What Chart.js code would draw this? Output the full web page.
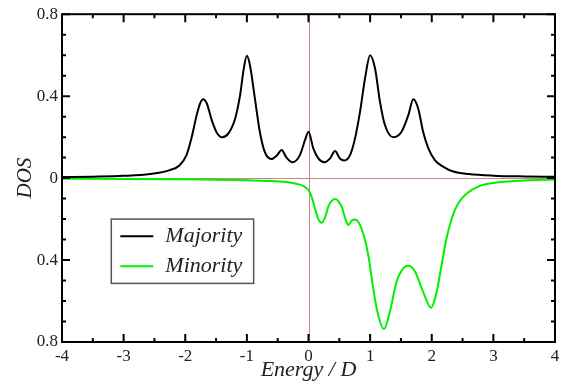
<!DOCTYPE html>
<html><head><meta charset="utf-8">
<script src="https://cdn.jsdelivr.net/npm/chart.js@4.4.0/dist/chart.umd.min.js"></script>
<style>html,body{margin:0;padding:0;background:#fff}#wrap{width:572px;height:383px}</style>
</head><body><div id="wrap"><canvas id="c" width="572" height="383"></canvas></div>
<script>
const energyMajority = [-4,-3.5,-3,-2.57,-2.25,-2.09,-1.98,-1.9,-1.815,-1.76,-1.71,-1.65,-1.57,-1.49,-1.4,-1.3,-1.19,-1.11,-1.05,-1.0,-0.95,-0.87,-0.79,-0.71,-0.6,-0.51,-0.435,-0.365,-0.26,-0.14,-0.057,0,0.078,0.16,0.257,0.35,0.43,0.51,0.58,0.674,0.755,0.836,0.917,1.0,1.08,1.16,1.24,1.377,1.51,1.62,1.70,1.78,1.86,1.945,2.05,2.19,2.35,2.6,3.0,3.5,4];
const dosMajority = [0.005,0.007,0.011,0.02,0.039,0.063,0.112,0.194,0.307,0.364,0.385,0.364,0.283,0.223,0.199,0.218,0.291,0.405,0.535,0.597,0.551,0.389,0.226,0.128,0.093,0.112,0.137,0.104,0.077,0.112,0.185,0.226,0.145,0.096,0.077,0.096,0.132,0.096,0.086,0.112,0.194,0.323,0.486,0.6,0.535,0.372,0.259,0.199,0.226,0.307,0.385,0.34,0.226,0.145,0.088,0.055,0.032,0.02,0.012,0.008,0.006];
const energyMinority = [-4,-3,-2,-1.5,-1,-0.7,-0.46,-0.3,-0.14,-0.06,0,0.05,0.105,0.16,0.214,0.27,0.32,0.38,0.44,0.49,0.54,0.6,0.646,0.7,0.755,0.86,0.97,1.05,1.13,1.225,1.32,1.43,1.54,1.62,1.73,1.86,1.99,2.08,2.16,2.24,2.325,2.43,2.57,2.78,3.0,3.5,4];
const dosMinority = [-0.003,-0.004,-0.006,-0.008,-0.011,-0.014,-0.017,-0.022,-0.032,-0.043,-0.059,-0.09,-0.148,-0.2,-0.218,-0.19,-0.14,-0.11,-0.102,-0.115,-0.14,-0.2,-0.229,-0.208,-0.202,-0.246,-0.376,-0.538,-0.668,-0.737,-0.652,-0.506,-0.44,-0.428,-0.457,-0.555,-0.633,-0.555,-0.424,-0.294,-0.197,-0.123,-0.075,-0.038,-0.024,-0.012,-0.007];
const xTicks = [-4,-3,-2,-1,0,1,2,3,4];
const yTicks = [-0.8,-0.4,0,0.4,0.8];
const seriesLabels = ['Majority','Minority'];
const seriesColors = ['#000000','#00f000'];

const toPts = (xs, ys) => xs.map((x, i) => ({x: x, y: ys[i]}));
const serif = '"Liberation Serif","Times New Roman",serif';

const framePlugin = {
  id: 'frame',
  beforeDatasetsDraw(chart) {
    const {ctx, chartArea: a, scales: {x, y}} = chart;
    ctx.save();
    ctx.strokeStyle = 'rgb(200,135,135)';
    ctx.lineWidth = 1;
    const x0 = Math.round(x.getPixelForValue(0)) + 0.5;
    const y0 = Math.round(y.getPixelForValue(0)) + 0.5;
    ctx.beginPath();
    ctx.moveTo(x0, a.top); ctx.lineTo(x0, a.bottom);
    ctx.moveTo(a.left, y0); ctx.lineTo(a.right, y0);
    ctx.stroke();
    ctx.restore();
  },
  afterDatasetsDraw(chart) {
    const {ctx, chartArea: a, scales: {x, y}} = chart;
    ctx.save();
    ctx.strokeStyle = '#000';
    ctx.lineWidth = 2;
    ctx.strokeRect(a.left, a.top, a.right - a.left, a.bottom - a.top);
    ctx.beginPath();
    for (let v = -4; v <= 4.0001; v += 0.5) {
      const px = x.getPixelForValue(v);
      const len = Math.abs(v - Math.round(v)) < 1e-6 ? 8 : 4;
      ctx.moveTo(px, a.bottom); ctx.lineTo(px, a.bottom - len);
      ctx.moveTo(px, a.top); ctx.lineTo(px, a.top + len);
    }
    for (let k = -8; k <= 8; k++) {
      const py = y.getPixelForValue(k / 10);
      const len = (k % 4 === 0) ? 8 : 4;
      ctx.moveTo(a.left, py); ctx.lineTo(a.left + len, py);
      ctx.moveTo(a.right, py); ctx.lineTo(a.right - len, py);
    }
    ctx.stroke();
    // legend box
    const bl = x.getPixelForValue(-3.2), br = x.getPixelForValue(-0.89);
    const bt = y.getPixelForValue(-0.2), bb = y.getPixelForValue(-0.514);
    ctx.strokeStyle = '#555';
    ctx.lineWidth = 1.5;
    ctx.strokeRect(bl, bt, br - bl, bb - bt);
    const rowH = (bb - bt) / 2;
    ctx.font = 'italic 22px ' + serif;
    ctx.textBaseline = 'middle';
    ctx.textAlign = 'left';
    chart.data.datasets.forEach((ds, i) => {
      const cy = bt + rowH * (i + 0.5) + (i === 0 ? 1 : -1);
      ctx.strokeStyle = ds.borderColor;
      ctx.lineWidth = 2;
      ctx.beginPath();
      ctx.moveTo(bl + 9, cy); ctx.lineTo(bl + 42, cy);
      ctx.stroke();
      ctx.fillStyle = '#222';
      ctx.fillText(ds.label, bl + 54, cy);
    });
    ctx.restore();
  }
};

new Chart(document.getElementById('c'), {
  type: 'line',
  data: {
    datasets: [
      {label: seriesLabels[0], data: toPts(energyMajority, dosMajority), borderColor: seriesColors[0], borderWidth: 2, pointRadius: 0, cubicInterpolationMode: 'monotone', fill: false},
      {label: seriesLabels[1], data: toPts(energyMinority, dosMinority), borderColor: seriesColors[1], borderWidth: 2, pointRadius: 0, cubicInterpolationMode: 'monotone', fill: false}
    ]
  },
  options: {
    responsive: false,
    animation: false,
    devicePixelRatio: 1,
    layout: {padding: {top: 14, right: 17, left: 0, bottom: 0}},
    plugins: {legend: {display: false}, tooltip: {enabled: false}},
    scales: {
      x: {
        type: 'linear', min: -4, max: 4,
        afterBuildTicks: s => { s.ticks = xTicks.map(v => ({value: v})); },
        grid: {display: false, drawTicks: false},
        border: {display: false},
        ticks: {font: {family: serif, size: 17}, color: '#222', padding: 4, maxRotation: 0},
        afterFit: s => { s.height = 41; },
        title: {display: true, text: 'Energy / D', font: {family: serif, size: 22, style: 'italic'}, color: '#222', padding: {top: 0, bottom: 0}}
      },
      y: {
        type: 'linear', min: -0.8, max: 0.8,
        afterBuildTicks: s => { s.ticks = yTicks.map(v => ({value: v})); },
        grid: {display: false, drawTicks: false},
        border: {display: false},
        ticks: {font: {family: serif, size: 17}, color: '#222', padding: 4,
          callback: v => String(Math.round(Math.abs(v) * 10) / 10)},
        afterFit: s => { s.width = 62; },
        title: {display: true, text: 'DOS', font: {family: serif, size: 21, style: 'italic'}, color: '#222', padding: {top: 13, bottom: 0}}
      }
    }
  },
  plugins: [framePlugin]
});
</script>
</body></html>
